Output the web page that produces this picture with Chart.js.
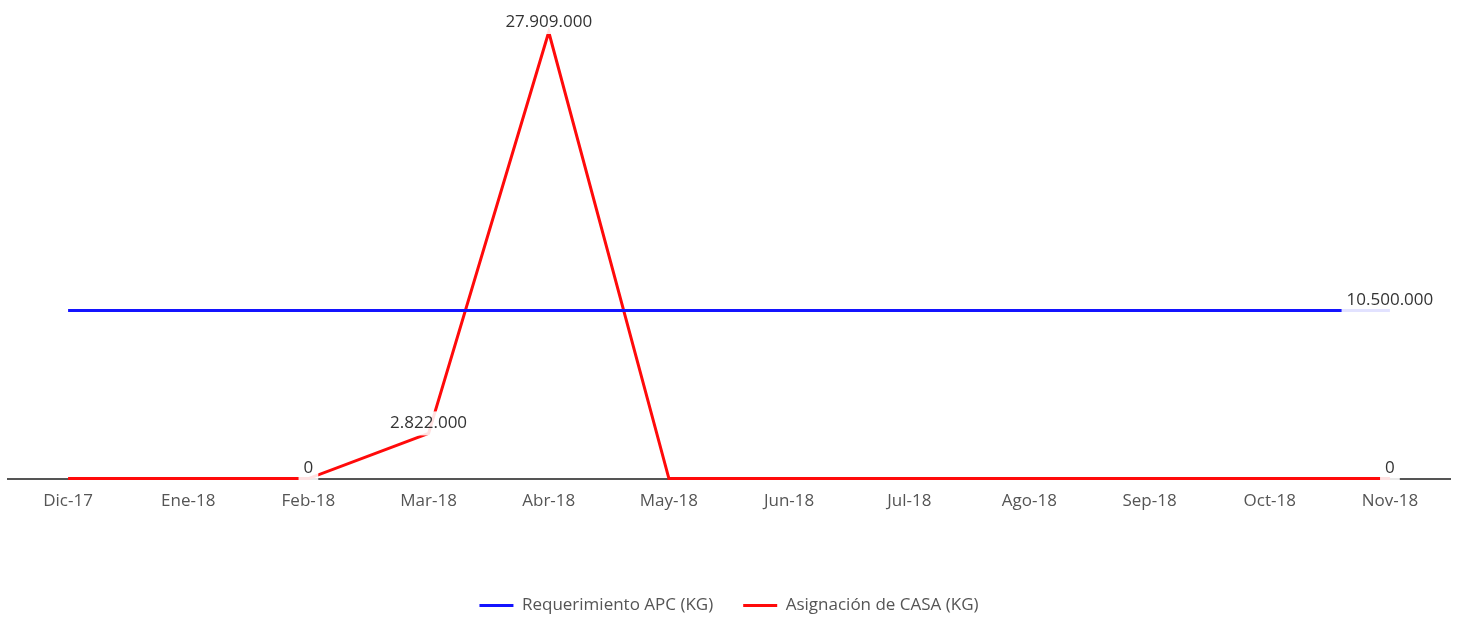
<!DOCTYPE html>
<html>
<head>
<meta charset="utf-8">
<script src="https://cdn.jsdelivr.net/npm/chart.js@4.4.0/dist/chart.umd.min.js"></script>
<style>
  html, body { margin: 0; padding: 0; background: #fff; }
  #wrap { width: 1458px; height: 618px; }
</style>
</head>
<body>
<div id="wrap"><canvas id="lineChart"></canvas></div>
<script>
const months = ['Dic-17', 'Ene-18', 'Feb-18', 'Mar-18', 'Abr-18', 'May-18', 'Jun-18', 'Jul-18', 'Ago-18', 'Sep-18', 'Oct-18', 'Nov-18'];
const requerimiento = [10500000, 10500000, 10500000, 10500000, 10500000, 10500000, 10500000, 10500000, 10500000, 10500000, 10500000, 10500000];
const asignacion = [0, 0, 0, 2822000, 27909000, 0, 0, 0, 0, 0, 0, 0];
// which points carry a value label
const requerimientoLabels = [11];
const asignacionLabels = [2, 3, 4, 11];

function formatNum(v) {
    return v.toString().replace(/\B(?=(\d{3})+(?!\d))/g, '.');
}

// draws the value labels with a white box behind them
const valueLabels = {
    id: 'valueLabels',
    afterDatasetsDraw(chart) {
        const ctx = chart.ctx;
        ctx.save();
        ctx.font = '17px "Open Sans"';
        ctx.textAlign = 'center';
        ctx.textBaseline = 'middle';
        chart.data.datasets.forEach((ds, i) => {
            const meta = chart.getDatasetMeta(i);
            ds.labelIdx.forEach(idx => {
                const pt = meta.data[idx];
                const txt = formatNum(ds.data[idx]);
                const w = ctx.measureText(txt).width;
                const x = pt.x;
                const y = pt.y - 10;
                ctx.fillStyle = 'rgba(255,255,255,0.88)';
                ctx.fillRect(x - w / 2 - 5, y - 12, w + 10, 24);
                ctx.fillStyle = '#333';
                ctx.fillText(txt, x, y);
            });
        });
        ctx.restore();
    }
};

const ctx = document.getElementById('lineChart').getContext('2d');
new Chart(ctx, {
    type: 'line',
    data: {
        labels: months,
        datasets: [{
            label: 'Requerimiento APC (KG)',
            data: requerimiento,
            labelIdx: requerimientoLabels,
            borderColor: '#1414ff',
            backgroundColor: '#1414ff',
            borderWidth: 3,
            pointRadius: 0,
            tension: 0,
            clip: false
        }, {
            label: 'Asignación de CASA (KG)',
            data: asignacion,
            labelIdx: asignacionLabels,
            borderColor: '#ff0a0a',
            backgroundColor: '#ff0a0a',
            borderWidth: 3,
            pointRadius: 0,
            tension: 0,
            clip: false
        }]
    },
    options: {
        responsive: true,
        maintainAspectRatio: false,
        animation: false,
        layout: { padding: { top: 32, left: 8, right: 8, bottom: -6 } },
        plugins: {
            tooltip: { enabled: false },
            legend: {
                position: 'bottom',
                labels: {
                    usePointStyle: true,
                    pointStyle: 'line',
                    pointStyleWidth: 34,
                    padding: 30,
                    color: '#555',
                    font: { family: '"Open Sans"', size: 17 }
                }
            }
        },
        scales: {
            x: {
                offset: true,
                grid: { display: false, drawTicks: false },
                border: { display: true, color: '#555', width: 2 },
                ticks: {
                    color: '#555',
                    padding: 12,
                    maxRotation: 0,
                    autoSkip: false,
                    font: { family: '"Open Sans"', size: 17 }
                },
                afterFit: (scale) => { scale.height += 44; }
            },
            y: {
                display: false,
                min: 0,
                max: 27909000
            }
        }
    },
    plugins: [valueLabels]
});
</script>
</body>
</html>
